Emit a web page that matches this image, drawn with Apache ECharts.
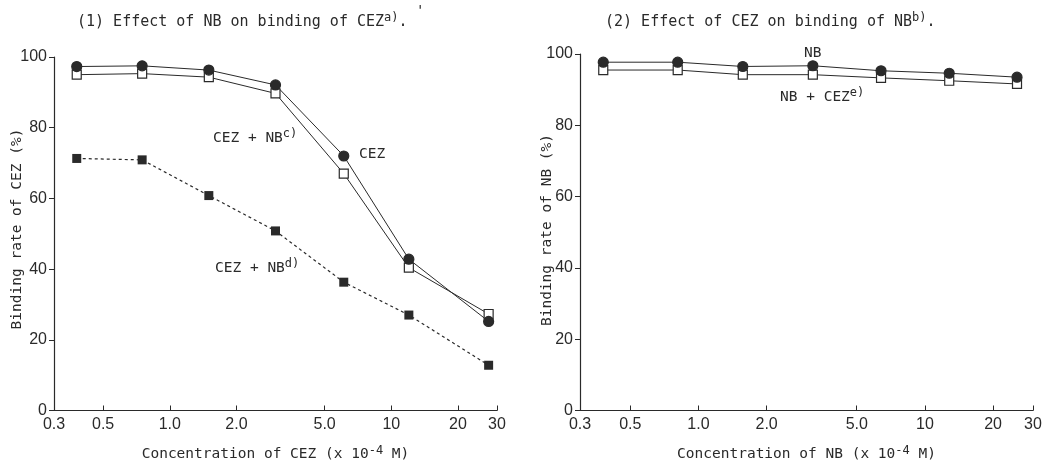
<!DOCTYPE html>
<html>
<head>
<meta charset="utf-8">
<script src="https://cdn.jsdelivr.net/npm/echarts@6/dist/echarts.min.js"></script>
<style>
  html, body { margin: 0; padding: 0; background: #fff; }
  #chart { width: 1051px; height: 467px; }
</style>
</head>
<body>
<div id="chart"></div>
<script>
// concentrations (x 10^-4 M)
const xCez = [0.38, 0.75, 1.5, 3.0, 6.1, 12, 27.5];
const xNb = [0.38, 0.81, 1.57, 3.2, 6.4, 12.8, 25.5];

// binding rate (%) panel 1
const cez = [97.3, 97.5, 96.3, 92.1, 72.0, 42.8, 25.2];
const cezNbC = [95.0, 95.3, 94.3, 89.7, 67.0, 40.4, 27.3];
const cezNbD = [71.3, 70.9, 60.8, 50.8, 36.3, 27.0, 12.8];

// binding rate (%) panel 2
const nb = [97.7, 97.7, 96.5, 96.7, 95.3, 94.6, 93.5];
const nbCez = [95.5, 95.5, 94.2, 94.2, 93.3, 92.5, 91.6];

const xTickValues = [0.3, 0.5, 1, 2, 5, 10, 20, 30];
const xTickLabels = ['0.3', '0.5', '1.0', '2.0', '5.0', '10', '20', '30'];

const ink = '#2a2a2a';
const mono = '"DejaVu Sans Mono", "Liberation Mono", monospace';
const sans = '"Liberation Sans", Arial, sans-serif';

const pair = (xs, ys) => xs.map((x, i) => [x, ys[i]]);

const xLabel = (v) => {
  let best = 0;
  xTickValues.forEach((t, i) => {
    if (Math.abs(Math.log(t / v)) < Math.abs(Math.log(xTickValues[best] / v))) best = i;
  });
  return xTickLabels[best];
};

const supRich = {
  sup: { fontFamily: mono, fontSize: 12, color: ink, verticalAlign: 'top', padding: [0, 0, 8, 0] }
};

function xAxisOf(gridIndex, name) {
  return {
    type: 'log',
    gridIndex,
    logBase: 10,
    min: 0.3,
    max: 30,
    name,
    nameLocation: 'middle',
    nameGap: 34,
    nameTextStyle: { fontFamily: mono, fontSize: 14.5, color: ink, rich: supRich },
    axisLine: { lineStyle: { color: ink, width: 1.2 } },
    axisTick: { inside: true, length: 5, lineStyle: { color: ink }, customValues: xTickValues.slice(1) },
    axisLabel: {
      customValues: xTickValues,
      formatter: xLabel,
      fontFamily: sans, fontSize: 16, color: ink, margin: 6
    },
    minorTick: { show: false },
    splitLine: { show: false }
  };
}

function yAxisOf(gridIndex) {
  return {
    type: 'value',
    gridIndex,
    min: 0,
    max: 100,
    interval: 20,
    axisLine: { show: true, lineStyle: { color: ink, width: 1.2 } },
    axisTick: { show: true, length: 5, lineStyle: { color: ink } },
    axisLabel: { fontFamily: sans, fontSize: 16, color: ink, margin: 7 },
    splitLine: { show: false }
  };
}

function solidSeries(axis, data, symbol, filled) {
  return {
    type: 'line',
    xAxisIndex: axis,
    yAxisIndex: axis,
    data,
    symbol,
    symbolSize: symbol === 'circle' ? 10 : 9,
    showAllSymbol: true,
    lineStyle: { color: ink, width: 1 },
    itemStyle: { color: filled ? ink : '#fff', borderColor: ink, borderWidth: 1.2 },
    emphasis: { disabled: true }
  };
}

function yTitle(x, y, text) {
  return {
    type: 'text', x, y, rotation: Math.PI / 2,
    style: { text, fontFamily: mono, fontSize: 14.5, fill: ink, align: 'center', verticalAlign: 'middle' }
  };
}

const chart = echarts.init(document.getElementById('chart'));

const option = {
  backgroundColor: '#fff',
  animation: false,
  grid: [
    { left: 54, top: 57, width: 443, height: 356 },
    { left: 580, top: 54, width: 453, height: 359 }
  ],
  xAxis: [
    xAxisOf(0, 'Concentration of CEZ (x 10{sup|-4} M)'),
    xAxisOf(1, 'Concentration of NB (x 10{sup|-4} M)')
  ],
  yAxis: [yAxisOf(0), yAxisOf(1)],
  series: [
    solidSeries(0, pair(xCez, cezNbC), 'rect', false),
    solidSeries(0, pair(xCez, cez), 'circle', true),
    {
      type: 'line',
      xAxisIndex: 0,
      yAxisIndex: 0,
      data: pair(xCez, cezNbD),
      symbol: 'rect',
      symbolSize: 9,
      lineStyle: { color: ink, width: 1.2, type: [3, 3] },
      itemStyle: { color: ink },
      emphasis: { disabled: true }
    },
    solidSeries(1, pair(xNb, nbCez), 'rect', false),
    solidSeries(1, pair(xNb, nb), 'circle', true)
  ],
  graphic: [
    yTitle(17, 229, 'Binding rate of CEZ (%)'),
    yTitle(547, 230, 'Binding rate of NB (%)'),
    {
      type: 'text', left: 77, top: 12,
      style: { text: '(1) Effect of NB on binding of CEZ{sup|a)}.', fontFamily: mono, fontSize: 15, fill: ink, rich: supRich }
    },
    { type: 'text', left: 416, top: 4, style: { text: "'", fontFamily: mono, fontSize: 14, fill: ink } },
    {
      type: 'text', left: 605, top: 12,
      style: { text: '(2) Effect of CEZ on binding of NB{sup|b)}.', fontFamily: mono, fontSize: 15, fill: ink, rich: supRich }
    },
    {
      type: 'text', left: 213, top: 128,
      style: { text: 'CEZ + NB{sup|c)}', fontFamily: mono, fontSize: 14.5, fill: ink, rich: supRich }
    },
    { type: 'text', left: 359, top: 147, style: { text: 'CEZ', fontFamily: mono, fontSize: 14.5, fill: ink } },
    {
      type: 'text', left: 215, top: 258,
      style: { text: 'CEZ + NB{sup|d)}', fontFamily: mono, fontSize: 14.5, fill: ink, rich: supRich }
    },
    { type: 'text', left: 804, top: 46, style: { text: 'NB', fontFamily: mono, fontSize: 14.5, fill: ink } },
    {
      type: 'text', left: 780, top: 87,
      style: { text: 'NB + CEZ{sup|e)}', fontFamily: mono, fontSize: 14.5, fill: ink, rich: supRich }
    }
  ]
};

chart.setOption(option);
</script>
</body>
</html>
